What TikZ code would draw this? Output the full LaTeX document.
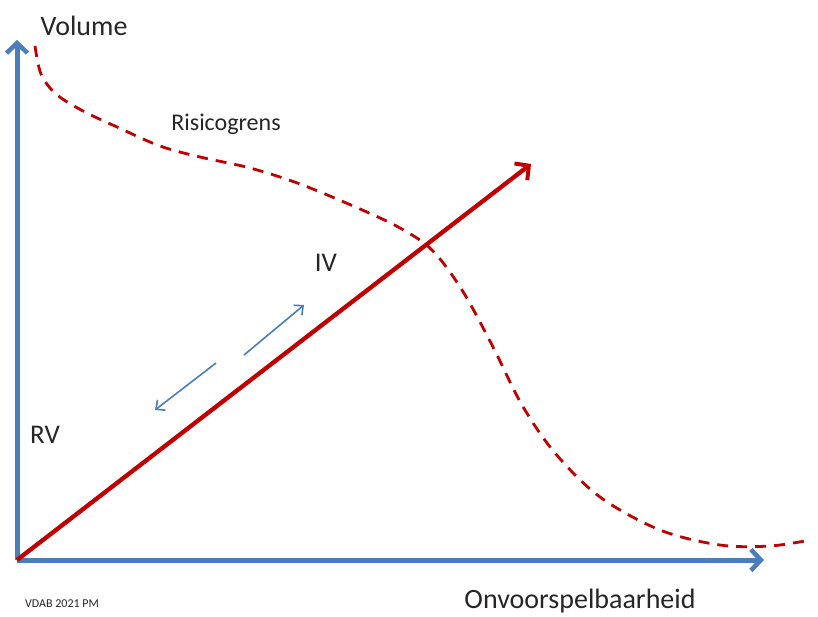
\documentclass[tikz,border=0pt]{standalone}
\usepackage{fontspec}
\setmainfont{Carlito}
\usetikzlibrary{arrows.meta}
\definecolor{axisblue}{RGB}{74,126,187}
\definecolor{darkred}{RGB}{192,0,0}
\tikzset{
  axis/.style={draw=axisblue, line width=5pt, -{Straight Barb[length=10pt,width=21pt,line width=4.5pt]}},
  mainarrow/.style={draw=darkred, line width=4.3pt, -{Straight Barb[length=10pt,width=21pt,line width=4pt]}},
  thinarrow/.style={draw=axisblue, line width=1.6pt, -{Straight Barb[length=7pt,width=13pt,line width=1.6pt]}},
  limit/.style={draw=darkred, line width=2.8pt, dash pattern=on 11pt off 8pt},
  lbl/.style={inner sep=0pt, text=black!85}
}
\begin{document}
\begin{tikzpicture}[x=1pt,y=-1pt]
\useasboundingbox (0,0) rectangle (818,617);
\coordinate (O) at (17,560);
\coordinate (Ytip) at (17,40);
\coordinate (Xtip) at (764,560);
\coordinate (Rtip) at (531,164);
\coordinate (A1s) at (244,355);
\coordinate (A1e) at (304,305);
\coordinate (A2s) at (216,363);
\coordinate (A2e) at (155,410);
\draw[axis] (O) -- (Ytip);
\draw[axis] (O) -- (Xtip);
\draw[limit] plot[smooth, tension=0.55] coordinates {(35,46) (41,74) (56,94) (83,111) (117,127) (160,146) (200,157) (250,168) (300,184) (360,209) (400,228) (432,250) (462,290) (492,345) (522,405) (555,453) (600,497) (660,530) (720,545) (770,546) (810,540)};
\draw[mainarrow] (O) -- (Rtip);
\draw[thinarrow] (A1s) -- (A1e);
\draw[thinarrow] (A2s) -- (A2e);
\node[lbl, font=\fontsize{28}{30}\selectfont] (vol) at (84,26) {Volume};
\node[lbl, font=\fontsize{24}{26}\selectfont] (ris) at (226,124) {Risicogrens};
\node[lbl, font=\fontsize{27}{29}\selectfont] (iv) at (326,263) {IV};
\node[lbl, font=\fontsize{27}{29}\selectfont] (rv) at (45,435) {RV};
\node[lbl, font=\fontsize{28}{30}\selectfont] (onv) at (580,601) {Onvoorspelbaarheid};
\node[lbl, font=\fontsize{12}{14}\selectfont] (vdab) at (62,604) {VDAB 2021 PM};
\end{tikzpicture}
\end{document}
